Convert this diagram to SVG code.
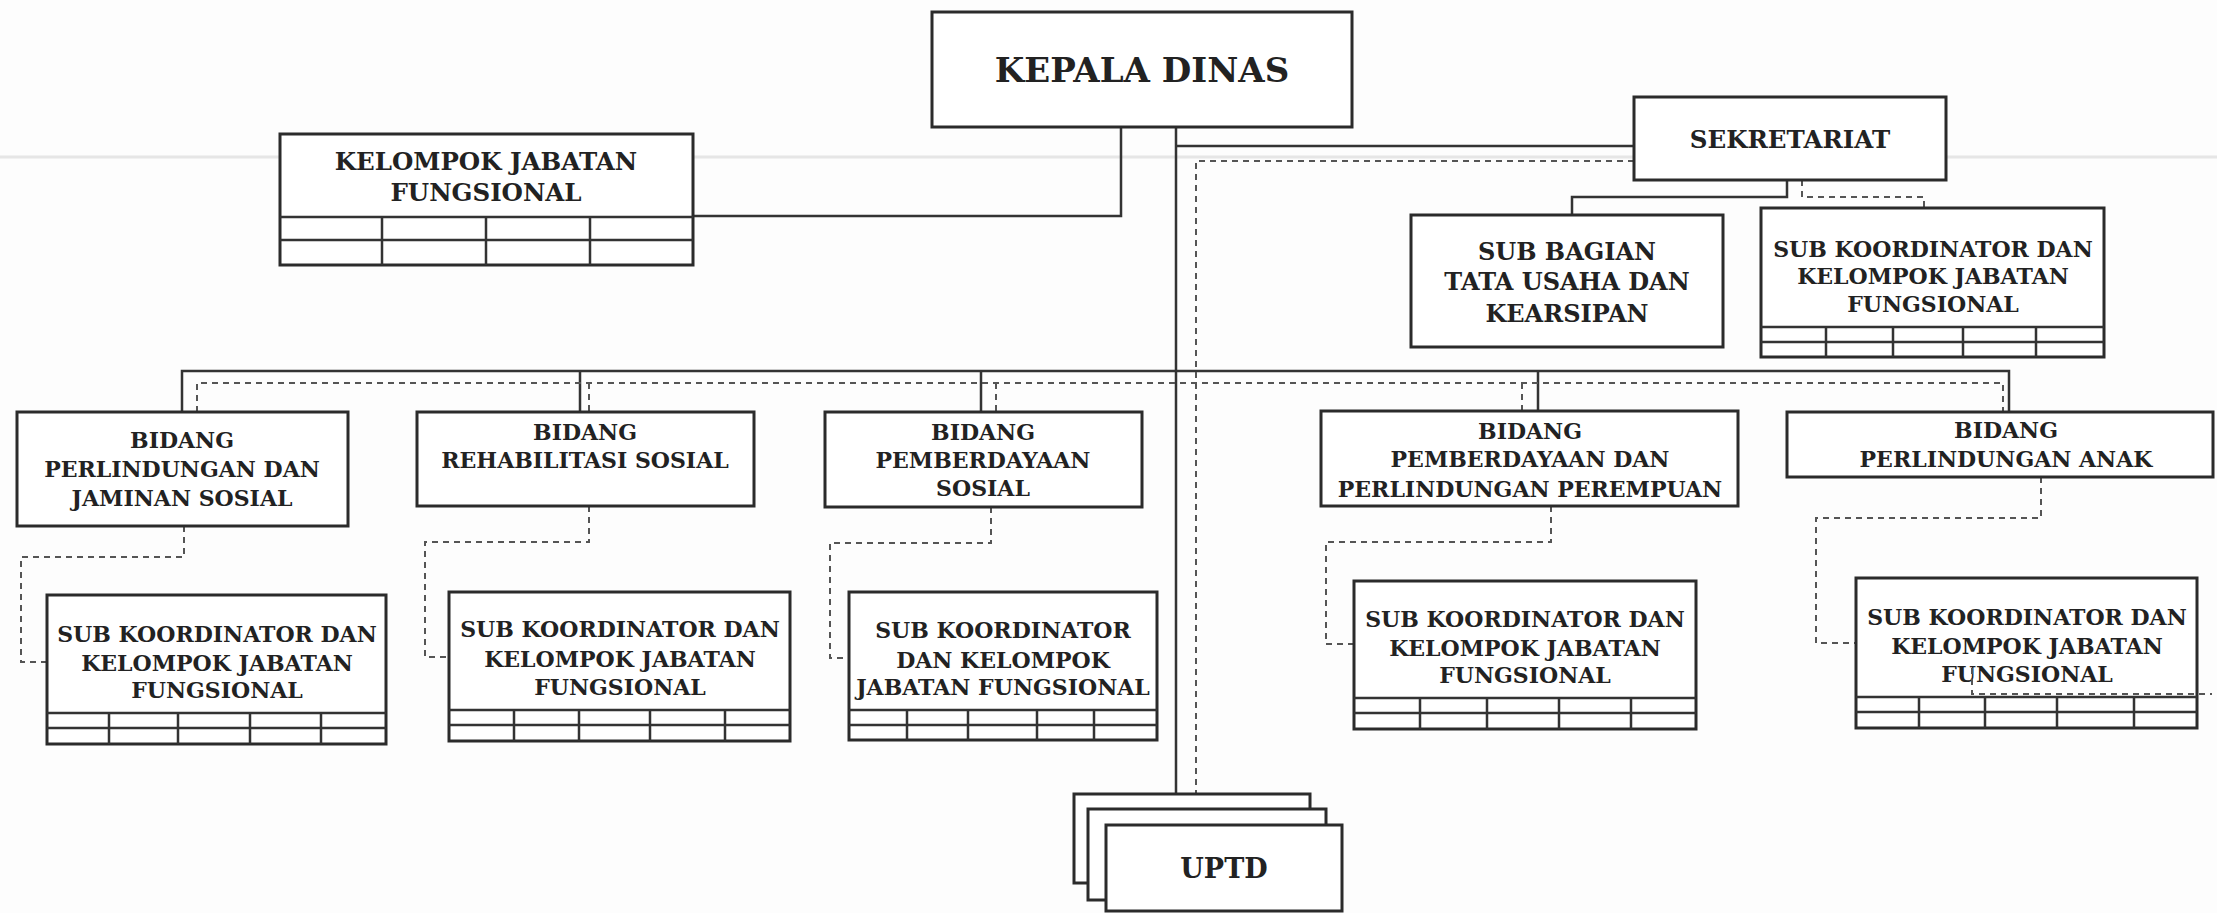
<svg xmlns="http://www.w3.org/2000/svg" width="2217" height="913" viewBox="0 0 2217 913">
<style>
.bg{fill:#fdfdfd}
.box{fill:#fff;stroke:#2b2b2b;stroke-width:3}
.tb{stroke:#333;stroke-width:2.5;fill:none}
.sl{stroke:#333;stroke-width:2.5;fill:none}
.dl{stroke:#555;stroke-width:2;stroke-dasharray:6 5;fill:none}
.t{font-family:"DejaVu Serif","Liberation Serif",serif;font-weight:bold;fill:#222;text-anchor:middle;font-size:22px}
.tl{font-size:24.5px}
.scan{stroke:#e6e6e6;stroke-width:3}
</style>
<rect class="bg" x="0" y="0" width="2217" height="913"/>
<line class="scan" x1="0" y1="157" x2="2217" y2="157"/>

<g id="connectors">
  <path class="sl" d="M1121,127 V216 H693"/>
  <path class="sl" d="M1176,127 V794"/>
  <path class="sl" d="M1176,146 H1634"/>
  <path class="sl" d="M1787,180 V197 H1572 V215"/>
  <path class="sl" d="M182,412 V371 H2009 V412"/>
  <path class="sl" d="M580,371 V412 M981,371 V412 M1538,371 V411"/>
  <path class="dl" d="M1634,161 H1196 V794"/>
  <path class="dl" d="M1802,180 V197 H1924 V208"/>
  <path class="dl" d="M197,412 V383 H2003 V412"/>
  <path class="dl" d="M589,383 V412 M996,383 V412 M1522,383 V411"/>
  <path class="dl" d="M184,526 V557 H21 V662 H47"/>
  <path class="dl" d="M589,506 V542 H425 V657 H449"/>
  <path class="dl" d="M991,507 V543 H830 V658 H849"/>
  <path class="dl" d="M1551,506 V542 H1326 V644 H1354"/>
  <path class="dl" d="M2041,477 V518 H1816 V643 H1856"/>
</g>

<g id="kepala-dinas">
  <rect class="box" x="932" y="12" width="420" height="115"/>
  <text class="t" x="1142" y="82" style="font-size:34px">KEPALA DINAS</text>
</g>

<g id="kelompok-jabatan-fungsional">
  <rect class="box" x="280" y="134" width="413" height="131"/>
  <path class="tb" d="M280,217 H693 M280,240 H693 M382,217 V265 M486,217 V265 M590,217 V265"/>
  <text class="t tl" x="486" y="170">KELOMPOK JABATAN</text>
  <text class="t tl" x="486" y="201">FUNGSIONAL</text>
</g>

<g id="sekretariat">
  <rect class="box" x="1634" y="97" width="312" height="83"/>
  <text class="t tl" x="1790" y="148">SEKRETARIAT</text>
</g>

<g id="sub-bagian">
  <rect class="box" x="1411" y="215" width="312" height="132"/>
  <text class="t" x="1567" y="260" style="font-size:24px">SUB BAGIAN</text>
  <text class="t" x="1567" y="290" style="font-size:24px">TATA USAHA DAN</text>
  <text class="t" x="1567" y="322" style="font-size:24px">KEARSIPAN</text>
</g>

<g id="subkoord-sekretariat">
  <rect class="box" x="1761" y="208" width="343" height="149"/>
  <path class="tb" d="M1761,327 H2104 M1761,342 H2104 M1826,327 V357 M1893,327 V357 M1963,327 V357 M2036,327 V357"/>
  <text class="t" x="1933" y="257">SUB KOORDINATOR DAN</text>
  <text class="t" x="1933" y="284">KELOMPOK JABATAN</text>
  <text class="t" x="1933" y="312">FUNGSIONAL</text>
</g>

<g id="bidang-1">
  <rect class="box" x="17" y="412" width="331" height="114"/>
  <text class="t" x="182" y="448">BIDANG</text>
  <text class="t" x="182" y="477">PERLINDUNGAN DAN</text>
  <text class="t" x="182" y="506">JAMINAN SOSIAL</text>
</g>

<g id="bidang-2">
  <rect class="box" x="417" y="412" width="337" height="94"/>
  <text class="t" x="585" y="440">BIDANG</text>
  <text class="t" x="585" y="468">REHABILITASI SOSIAL</text>
</g>

<g id="bidang-3">
  <rect class="box" x="825" y="412" width="317" height="95"/>
  <text class="t" x="983" y="440">BIDANG</text>
  <text class="t" x="983" y="468">PEMBERDAYAAN</text>
  <text class="t" x="983" y="496">SOSIAL</text>
</g>

<g id="bidang-4">
  <rect class="box" x="1321" y="411" width="417" height="95"/>
  <text class="t" x="1530" y="439">BIDANG</text>
  <text class="t" x="1530" y="467">PEMBERDAYAAN DAN</text>
  <text class="t" x="1530" y="497">PERLINDUNGAN PEREMPUAN</text>
</g>

<g id="bidang-5">
  <rect class="box" x="1787" y="412" width="426" height="65"/>
  <text class="t" x="2006" y="438">BIDANG</text>
  <text class="t" x="2006" y="467">PERLINDUNGAN ANAK</text>
</g>

<g id="subkoord-1">
  <rect class="box" x="47" y="595" width="339" height="149"/>
  <path class="tb" d="M47,713 H386 M47,728 H386 M109,713 V744 M178,713 V744 M250,713 V744 M321,713 V744"/>
  <text class="t" x="217" y="642">SUB KOORDINATOR DAN</text>
  <text class="t" x="217" y="671">KELOMPOK JABATAN</text>
  <text class="t" x="217" y="698">FUNGSIONAL</text>
</g>

<g id="subkoord-2">
  <rect class="box" x="449" y="592" width="341" height="149"/>
  <path class="tb" d="M449,710 H790 M449,725 H790 M514,710 V741 M579,710 V741 M650,710 V741 M725,710 V741"/>
  <text class="t" x="620" y="637">SUB KOORDINATOR DAN</text>
  <text class="t" x="620" y="667">KELOMPOK JABATAN</text>
  <text class="t" x="620" y="695">FUNGSIONAL</text>
</g>

<g id="subkoord-3">
  <rect class="box" x="849" y="592" width="308" height="148"/>
  <path class="tb" d="M849,710 H1157 M849,725 H1157 M907,710 V740 M968,710 V740 M1037,710 V740 M1094,710 V740"/>
  <text class="t" x="1003" y="638">SUB KOORDINATOR</text>
  <text class="t" x="1003" y="668">DAN KELOMPOK</text>
  <text class="t" x="1003" y="695">JABATAN FUNGSIONAL</text>
</g>

<g id="subkoord-4">
  <rect class="box" x="1354" y="581" width="342" height="148"/>
  <path class="tb" d="M1354,698 H1696 M1354,713 H1696 M1420,698 V729 M1487,698 V729 M1559,698 V729 M1631,698 V729"/>
  <text class="t" x="1525" y="627">SUB KOORDINATOR DAN</text>
  <text class="t" x="1525" y="656">KELOMPOK JABATAN</text>
  <text class="t" x="1525" y="683">FUNGSIONAL</text>
</g>

<g id="subkoord-5">
  <rect class="box" x="1856" y="578" width="341" height="150"/>
  <path class="tb" d="M1856,697 H2197 M1856,712 H2197 M1919,697 V728 M1985,697 V728 M2057,697 V728 M2134,697 V728"/>
  <text class="t" x="2027" y="625">SUB KOORDINATOR DAN</text>
  <text class="t" x="2027" y="654">KELOMPOK JABATAN</text>
  <text class="t" x="2027" y="682">FUNGSIONAL</text>
  <path class="dl" d="M1972,668 V694 H2212"/>
</g>

<g id="uptd">
  <rect class="box" x="1074" y="794" width="236" height="89"/>
  <rect class="box" x="1088" y="809" width="238" height="91"/>
  <rect class="box" x="1106" y="825" width="236" height="86"/>
  <text class="t" x="1224" y="878" style="font-size:27px">UPTD</text>
</g>
</svg>
